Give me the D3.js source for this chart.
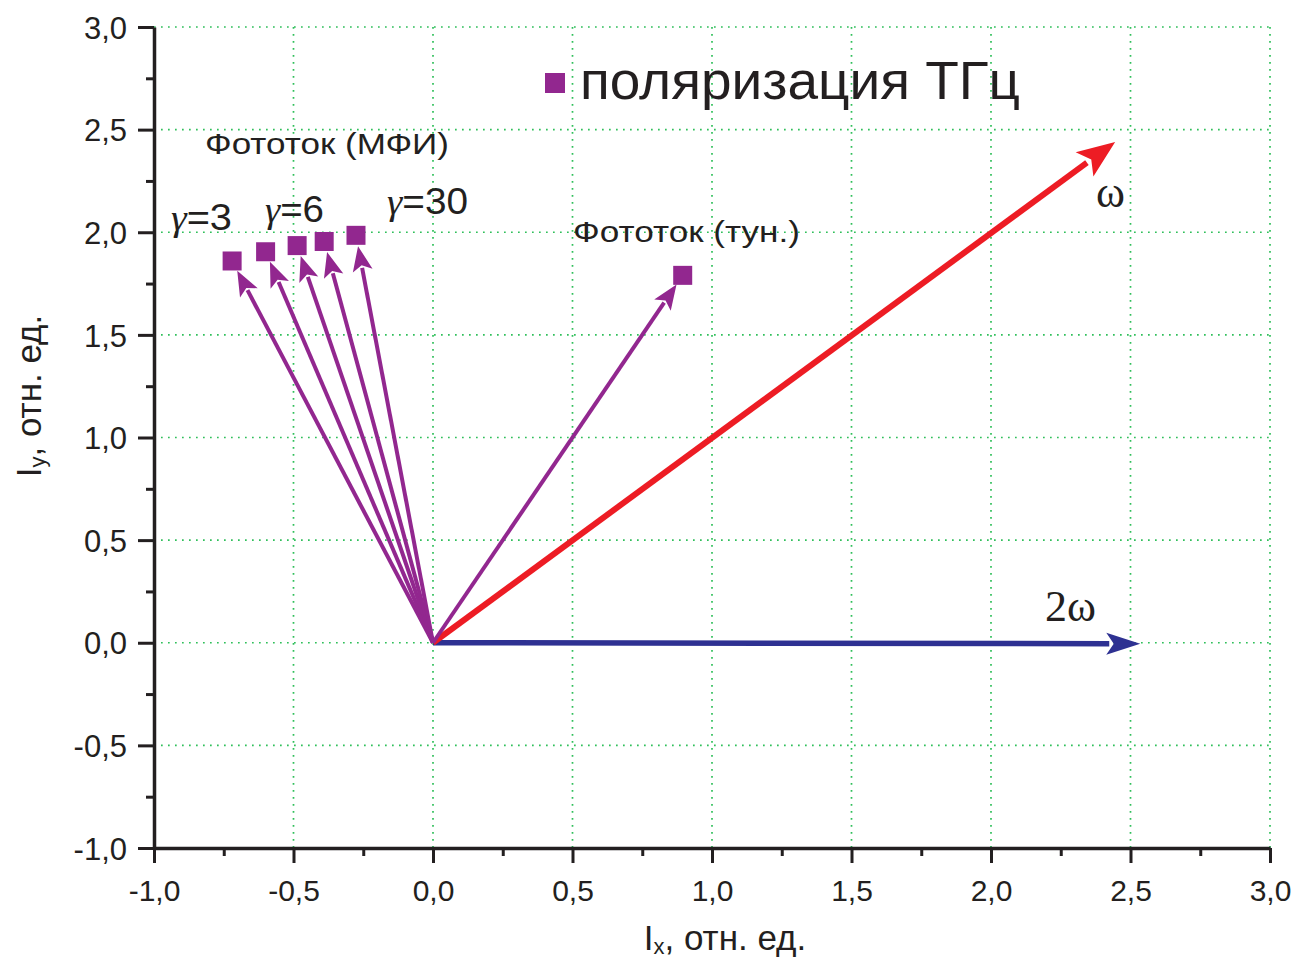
<!DOCTYPE html>
<html>
<head>
<meta charset="utf-8">
<script src="https://cdn.jsdelivr.net/npm/d3@7"></script>
<style>
  html, body { margin: 0; padding: 0; background: #fff; }
  svg { display: block; }
</style>
</head>
<body>
<svg id="chart" width="1310" height="961"></svg>
<script>
// Polarization vectors (Ix, Iy) in relative units
const photoLabels = ["γ=3", "", "γ=6", "", "γ=30"];
const photoX = [-0.72, -0.60, -0.487, -0.39, -0.276];
const photoY = [1.86, 1.905, 1.935, 1.955, 1.985];
const tunX = [0.895];
const tunY = [1.79];
const omegaVec = [2.445, 2.44];
const omega2Vec = [2.535, 0.0];

const xTicks = [-1.0, -0.5, 0.0, 0.5, 1.0, 1.5, 2.0, 2.5, 3.0];
const yTicks = [-1.0, -0.5, 0.0, 0.5, 1.0, 1.5, 2.0, 2.5, 3.0];

const purple = "#92278f", red = "#ed1c24", blue = "#2e3192", gridColor = "#2fbf5a", ink = "#231f20";
const SANS = "Liberation Sans, Arial, Helvetica, sans-serif";
const SERIF = "Liberation Serif, Times New Roman, serif";

const svg = d3.select("#chart").attr("font-family", SANS);
const padL = 154, padR = 1270, padT = 27, padB = 848;

const x = d3.scaleLinear().domain([-1, 3]).range([padL, padR]);
const y = d3.scaleLinear().domain([-1, 3]).range([padB, padT]);
const fmt = d => d3.format(".1f")(d).replace(".", ",").replace("−", "-");
const isMajor = d => Math.abs(d * 2 - Math.round(d * 2)) < 1e-6;

// grid
const g = svg.append("g");
g.selectAll(".gx").data(xTicks.filter(d => d > -1)).enter().append("line")
  .attr("x1", d => x(d)).attr("x2", d => x(d)).attr("y1", padT).attr("y2", padB)
  .attr("stroke", gridColor).attr("stroke-width", 1.7).attr("stroke-dasharray", "1.7,5.3");
g.selectAll(".gy").data(yTicks.filter(d => d > -1)).enter().append("line")
  .attr("y1", d => y(d)).attr("y2", d => y(d)).attr("x1", padL).attr("x2", padR)
  .attr("stroke", gridColor).attr("stroke-width", 1.7).attr("stroke-dasharray", "1.7,5.3");

// axes
const xAxis = d3.axisBottom(x).tickValues(d3.range(-1, 3.001, 0.25))
  .tickFormat(d => isMajor(d) ? fmt(d) : "")
  .tickSizeOuter(0);
const gx = svg.append("g").attr("transform", `translate(0,${padB})`).call(xAxis);
gx.selectAll(".tick line").attr("stroke", ink).attr("stroke-width", 3)
  .attr("y2", d => isMajor(d) ? 15 : 8);
gx.select(".domain").attr("stroke", ink).attr("stroke-width", 3.5);
gx.selectAll(".tick text").attr("font-size", 30).attr("y", 53).attr("dy", 0)
  .attr("font-family", SANS).attr("fill", ink);

const yAxis = d3.axisLeft(y).tickValues(d3.range(-1, 3.001, 0.25))
  .tickFormat(d => isMajor(d) ? fmt(d) : "")
  .tickSizeOuter(0);
const gy = svg.append("g").attr("transform", `translate(${padL},0)`).call(yAxis);
gy.selectAll(".tick line").attr("stroke", ink).attr("stroke-width", 3)
  .attr("x2", d => isMajor(d) ? -16 : -8);
gy.select(".domain").attr("stroke", ink).attr("stroke-width", 3.5);
gy.selectAll(".tick text").attr("x", -27).attr("font-size", 31).attr("dy", "0.36em")
  .attr("font-family", SANS).attr("fill", ink);

// arrow helper in pixel space
function arrow(x0, y0, x1, y1, color, w, headLen, headW, back) {
  const dx = x1 - x0, dy = y1 - y0, L = Math.hypot(dx, dy);
  const ux = dx / L, uy = dy / L;
  const tx = x1 - ux * back, ty = y1 - uy * back;
  const bx = tx - ux * headLen, by = ty - uy * headLen;
  svg.append("line").attr("x1", x0).attr("y1", y0).attr("x2", bx + ux * 3).attr("y2", by + uy * 3)
    .attr("stroke", color).attr("stroke-width", w);
  const px = -uy, py = ux;
  svg.append("path")
    .attr("d", `M${tx},${ty}L${bx + px * headW / 2},${by + py * headW / 2}L${bx + ux * headLen * 0.22},${by + uy * headLen * 0.22}L${bx - px * headW / 2},${by - py * headW / 2}Z`)
    .attr("fill", color);
}

const ox = x(0), oy = y(0);
arrow(ox, oy, x(omega2Vec[0]), y(omega2Vec[1]) + 1, blue, 5.5, 34, 22, 0);
arrow(ox, oy, x(omegaVec[0]), y(omegaVec[1]), red, 6, 38, 30, 0);
photoX.forEach((v, i) => arrow(ox, oy, x(v), y(photoY[i]), purple, 4, 25, 20, 11));
arrow(ox, oy, x(tunX[0]), y(tunY[0]), purple, 4, 25, 20, 11);

// square markers
const allX = photoX.concat(tunX), allY = photoY.concat(tunY);
svg.selectAll(".pt").data(allX).enter().append("rect")
  .attr("x", d => x(d) - 9.5).attr("y", (d, i) => y(allY[i]) - 9.5)
  .attr("width", 19).attr("height", 19).attr("fill", purple);

// text helper: fits a label to a given width
function label(xp, yp, size, str, width, family) {
  const t = svg.append("text").attr("x", xp).attr("y", yp).attr("font-size", size)
    .attr("fill", ink).attr("font-family", family || SANS).text(str);
  if (width) t.attr("textLength", width).attr("lengthAdjust", "spacingAndGlyphs");
  return t;
}

// γ labels
const gammaPos = [[171, 230, 61], null, [265, 222, 59], null, [387, 214, 81]];
photoLabels.forEach((lab, i) => {
  if (!lab) return;
  const p = gammaPos[i];
  const t = svg.append("text").attr("x", p[0]).attr("y", p[1]).attr("font-size", 36).attr("fill", ink)
    .attr("textLength", p[2]).attr("lengthAdjust", "spacingAndGlyphs");
  t.append("tspan").attr("font-family", SERIF).attr("font-style", "italic").text("γ");
  t.append("tspan").attr("font-family", SANS).text(lab.slice(1));
});

label(205, 154, 30, "Фототок (МФИ)", 244);
label(573, 242, 29, "Фототок (тун.)", 227);
label(1096, 207, 44, "ω", null, SERIF);
label(1045, 621, 44, "2ω", null, SERIF);

// legend
svg.append("rect").attr("x", 545).attr("y", 73).attr("width", 20).attr("height", 20).attr("fill", purple);
label(580, 99, 53, "поляризация ТГц", 440);

// axis titles
const xt = svg.append("text").attr("x", 725).attr("y", 950).attr("text-anchor", "middle")
  .attr("font-size", 35).attr("fill", ink);
xt.append("tspan").text("I");
xt.append("tspan").attr("font-size", 22).attr("dy", 4).text("x");
xt.append("tspan").attr("dy", -4).text(", отн. ед.");

const yt = svg.append("text").attr("transform", "translate(41,396) rotate(-90)").attr("text-anchor", "middle")
  .attr("font-size", 35).attr("fill", ink);
yt.append("tspan").text("I");
yt.append("tspan").attr("font-size", 22).attr("dy", 4).text("y");
yt.append("tspan").attr("dy", -4).text(", отн. ед.");
</script>
</body>
</html>
